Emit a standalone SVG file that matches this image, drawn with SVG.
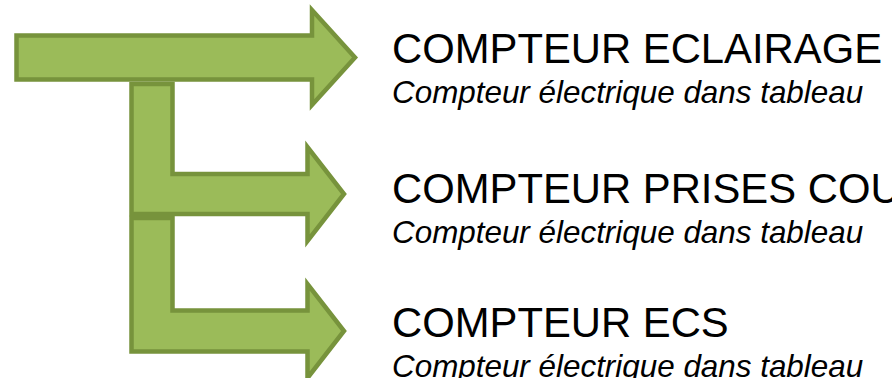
<svg xmlns="http://www.w3.org/2000/svg" width="892" height="378" viewBox="0 0 892 378">
  <style>
    .arrow { fill: #9BBB59; stroke: #77933C; stroke-width: 4.5; stroke-linejoin: miter; }
    .title { font-family: "Liberation Sans", Arial, sans-serif; font-size: 41.8px; fill: #000000; }
    .sub { font-family: "Liberation Sans", Arial, sans-serif; font-size: 31.4px; font-style: italic; fill: #000000; }
  </style>
  <rect width="892" height="378" fill="#ffffff"/>
  <!-- arrows drawn bottom-up so each upper arrow overlaps the stem below it -->
  <g id="connectors">
    <path id="arrow-ecs" class="arrow" d="M131.5,218 H172.5 V310.5 H307.5 V284 L344,331 L307.5,378 V351.5 H131.5 Z"/>
    <path id="arrow-prises" class="arrow" d="M131.5,84 H172.5 V174 H307.5 V147 L344,194 L307.5,241 V214 H131.5 Z"/>
    <path id="arrow-eclairage" class="arrow" d="M16.5,35.5 H312 V10 L355,57.5 L312,105 V79.5 H16.5 Z"/>
  </g>
  <g id="node-eclairage">
    <text class="title" x="392" y="62.5">COMPTEUR ECLAIRAGE</text>
    <text class="sub" x="392" y="103">Compteur électrique dans tableau</text>
  </g>
  <g id="node-prises">
    <text class="title" x="392" y="202.5">COMPTEUR PRISES COURANT</text>
    <text class="sub" x="392" y="243">Compteur électrique dans tableau</text>
  </g>
  <g id="node-ecs">
    <text class="title" x="392" y="337">COMPTEUR ECS</text>
    <text class="sub" x="392" y="377">Compteur électrique dans tableau</text>
  </g>
</svg>
